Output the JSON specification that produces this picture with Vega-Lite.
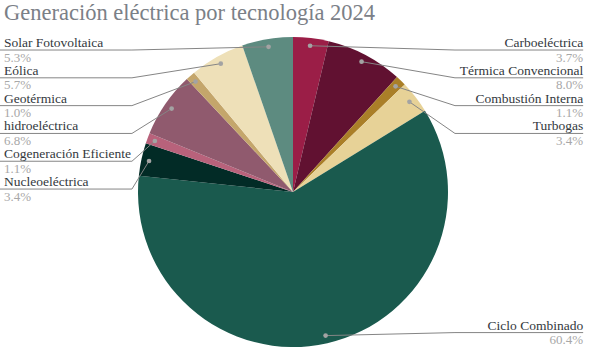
{
  "$schema": "https://vega.github.io/schema/vega-lite/v6.json",
  "width": 586,
  "height": 384,
  "autosize": {"type": "none"},
  "padding": 0,
  "background": "#ffffff",
  "title": {
    "text": "Generación eléctrica por tecnología 2024",
    "anchor": "start",
    "frame": "group",
    "orient": "top",
    "baseline": "top",
    "offset": 0,
    "dx": 4,
    "dy": 24,
    "font": "Liberation Serif",
    "fontSize": 22.5,
    "fontWeight": "normal",
    "color": "#7b8087"
  },
  "config": {"view": {"stroke": null}},
  "data": {
    "values": [
      {"name": "Carboeléctrica", "pct": 3.7},
      {"name": "Térmica Convencional", "pct": 8.0},
      {"name": "Combustión Interna", "pct": 1.1},
      {"name": "Turbogas", "pct": 3.4},
      {"name": "Ciclo Combinado", "pct": 60.4},
      {"name": "Nucleoeléctrica", "pct": 3.4},
      {"name": "Cogeneración Eficiente", "pct": 1.1},
      {"name": "hidroeléctrica", "pct": 6.8},
      {"name": "Geotérmica", "pct": 1.0},
      {"name": "Eólica", "pct": 5.7},
      {"name": "Solar Fotovoltaica", "pct": 5.3}
    ]
  },
  "transform": [
    {"window": [{"op": "row_number", "as": "idx"}, {"op": "sum", "field": "pct", "as": "cum"}], "frame": [null, 0]},
    {"joinaggregate": [{"op": "sum", "field": "pct", "as": "total"}]},
    {"calculate": "(datum.cum - datum.pct / 2) / datum.total * 2 * PI", "as": "ang"},
    {"calculate": "0.95 * sin(datum.ang)", "as": "px"},
    {"calculate": "0.95 * cos(datum.ang)", "as": "py"},
    {"calculate": "datum.ang > PI ? 'left' : 'right'", "as": "side"},
    {"window": [{"op": "row_number", "as": "rank"}], "groupby": ["side"], "sort": [{"field": "py", "order": "descending"}]},
    {"calculate": "min(0.916 - 0.1794 * (datum.rank - 1), datum.py + 0.0194)", "as": "ly"},
    {"calculate": "datum.side == 'left' ? -1.039 : 1.045", "as": "ex"},
    {"calculate": "datum.side == 'left' ? -1.895 : 1.872", "as": "endx"},
    {"calculate": "datum.side == 'left' ? -1.865 : 1.872", "as": "tx"},
    {"calculate": "format(datum.pct, '.1f') + '%'", "as": "plabel"}
  ],
  "layer": [
    {
      "mark": {"type": "arc", "outerRadius": 155},
      "encoding": {
        "theta": {"field": "pct", "type": "quantitative", "stack": true},
        "order": {"field": "idx", "type": "quantitative"},
        "color": {
          "field": "name",
          "type": "nominal",
          "legend": null,
          "scale": {
            "domain": ["Carboeléctrica", "Térmica Convencional", "Combustión Interna", "Turbogas", "Ciclo Combinado", "Nucleoeléctrica", "Cogeneración Eficiente", "hidroeléctrica", "Geotérmica", "Eólica", "Solar Fotovoltaica"],
            "range": ["#9b1e47", "#611131", "#aa7f28", "#e7d297", "#1a5a4e", "#022b26", "#b8627b", "#905a6e", "#c4a66b", "#eee0b8", "#5d8b80"]
          }
        }
      }
    },
    {
      "mark": {"type": "rule", "color": "#858585", "strokeWidth": 1},
      "encoding": {
        "x": {"field": "px", "type": "quantitative", "scale": {"domain": [-1.8903, 1.8903], "nice": false, "zero": false}, "axis": null},
        "y": {"field": "py", "type": "quantitative", "scale": {"domain": [-1.2387, 1.2387], "nice": false, "zero": false}, "axis": null},
        "x2": {"field": "ex"},
        "y2": {"field": "ly"}
      }
    },
    {
      "mark": {"type": "rule", "color": "#858585", "strokeWidth": 1},
      "encoding": {
        "x": {"field": "ex", "type": "quantitative"},
        "y": {"field": "ly", "type": "quantitative"},
        "x2": {"field": "endx"},
        "y2": {"field": "ly"}
      }
    },
    {
      "mark": {"type": "circle", "color": "#a3a3a3", "opacity": 1, "size": 22},
      "encoding": {
        "x": {"field": "px", "type": "quantitative"},
        "y": {"field": "py", "type": "quantitative"}
      }
    },
    {
      "transform": [{"filter": "datum.side == 'left'"}],
      "mark": {"type": "text", "align": "left", "baseline": "alphabetic", "dy": -3, "font": "Liberation Serif", "fontSize": 13.5, "color": "#33383d"},
      "encoding": {
        "x": {"field": "tx", "type": "quantitative"},
        "y": {"field": "ly", "type": "quantitative"},
        "text": {"field": "name"}
      }
    },
    {
      "transform": [{"filter": "datum.side == 'left'"}],
      "mark": {"type": "text", "align": "left", "baseline": "top", "dy": 1.5, "font": "Liberation Serif", "fontSize": 13, "color": "#a8a8a8"},
      "encoding": {
        "x": {"field": "tx", "type": "quantitative"},
        "y": {"field": "ly", "type": "quantitative"},
        "text": {"field": "plabel"}
      }
    },
    {
      "transform": [{"filter": "datum.side == 'right'"}],
      "mark": {"type": "text", "align": "right", "baseline": "alphabetic", "dy": -3, "font": "Liberation Serif", "fontSize": 13.5, "color": "#33383d"},
      "encoding": {
        "x": {"field": "tx", "type": "quantitative"},
        "y": {"field": "ly", "type": "quantitative"},
        "text": {"field": "name"}
      }
    },
    {
      "transform": [{"filter": "datum.side == 'right'"}],
      "mark": {"type": "text", "align": "right", "baseline": "top", "dy": 1.5, "font": "Liberation Serif", "fontSize": 13, "color": "#a8a8a8"},
      "encoding": {
        "x": {"field": "tx", "type": "quantitative"},
        "y": {"field": "ly", "type": "quantitative"},
        "text": {"field": "plabel"}
      }
    }
  ]
}
